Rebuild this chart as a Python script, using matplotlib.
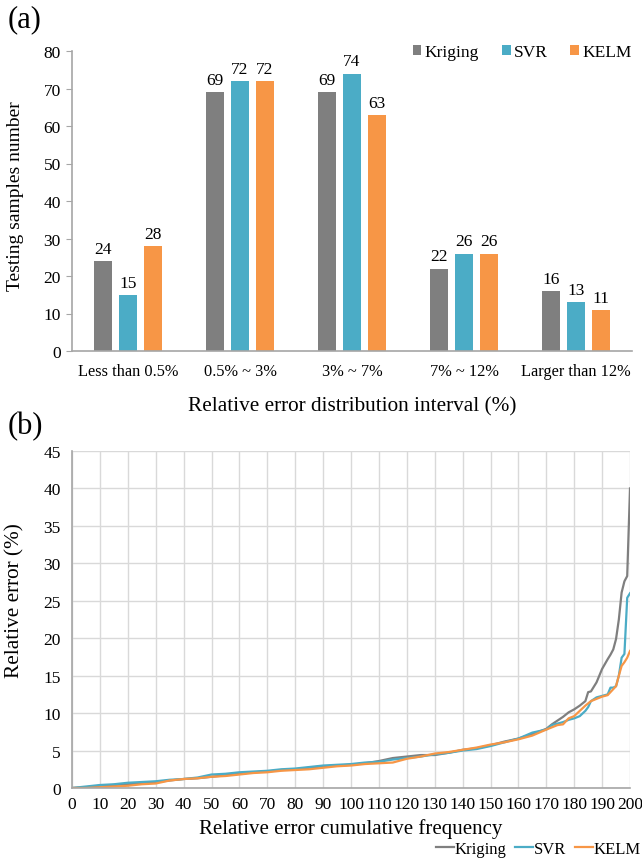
import matplotlib
matplotlib.use("Agg")
import matplotlib.pyplot as plt
import numpy as np

plt.rcParams['font.family'] = ['Liberation Serif', 'DejaVu Serif']

# (a) bar chart data
categories = ["Less than 0.5%", "0.5% ~ 3%", "3% ~ 7%", "7% ~ 12%", "Larger than 12%"]
kriging_counts = [24, 69, 69, 22, 16]
svr_counts = [15, 72, 74, 26, 13]
kelm_counts = [28, 72, 63, 26, 11]

# (b) relative error sorted
freq = [0, 5, 10, 15, 20, 25, 30, 35, 40, 45, 50, 55, 60, 65, 70, 75, 80, 85, 90, 95,
        100, 105, 110, 115, 120, 125, 130, 135, 140, 145, 150, 155, 160, 165, 170,
        172, 174, 176, 178, 180, 182, 184, 185, 186, 188, 190, 192, 193, 194, 195,
        196, 197, 198, 199, 200]
err_kriging = [0, 0.1, 0.3, 0.4, 0.5, 0.6, 0.8, 1.0, 1.2, 1.3, 1.5, 1.7, 1.9, 2.1, 2.2, 2.4,
               2.5, 2.7, 2.9, 3.0, 3.1, 3.3, 3.6, 4.0, 4.2, 4.4, 4.4, 4.7, 5.1, 5.3, 5.7,
               6.2, 6.6, 7.2, 7.9, 8.5, 9.0, 9.5, 10.1, 10.5, 11.0, 11.6, 12.8, 12.9, 14.1,
               15.9, 17.2, 17.8, 18.5, 19.9, 22.5, 26.1, 27.6, 28.3, 40.0]
err_svr = [0, 0.2, 0.4, 0.5, 0.7, 0.8, 0.9, 1.1, 1.2, 1.4, 1.8, 1.9, 2.1, 2.2, 2.3, 2.5,
           2.6, 2.8, 3.0, 3.1, 3.2, 3.4, 3.5, 3.8, 4.0, 4.2, 4.5, 4.7, 5.0, 5.2, 5.6,
           6.1, 6.6, 7.4, 7.8, 8.4, 8.6, 8.8, 9.1, 9.3, 9.6, 10.3, 10.8, 11.6, 12.1,
           12.3, 12.5, 13.4, 13.4, 13.6, 15.0, 17.4, 17.9, 25.4, 26.0]
err_kelm = [0, 0.0, 0.1, 0.2, 0.3, 0.5, 0.6, 1.0, 1.2, 1.3, 1.5, 1.6, 1.8, 2.0, 2.1, 2.3,
            2.4, 2.5, 2.7, 2.9, 3.0, 3.2, 3.3, 3.4, 3.9, 4.2, 4.6, 4.8, 5.1, 5.4, 5.8,
            6.1, 6.5, 7.0, 7.8, 8.1, 8.4, 8.5, 9.3, 9.6, 10.3, 11.0, 11.3, 11.6, 11.9,
            12.2, 12.4, 12.8, 13.2, 13.6, 15.0, 16.3, 16.8, 17.4, 18.3]

grey = "#7F7F7F"
blue = "#4BACC6"
orange = "#F79646"
axis_col = "#A6A6A6"

W, H = 642, 862
fig = plt.figure(figsize=(W / 100, H / 100), dpi=100)

# ---- (a)
ax1 = fig.add_axes([72 / W, 1 - 352 / H, 560 / W, 300 / H])
x = np.arange(len(categories))
w = 0.16
step = 0.22
b1 = ax1.bar(x - step, kriging_counts, w, color=grey, label="Kriging")
b2 = ax1.bar(x, svr_counts, w, color=blue, label="SVR")
b3 = ax1.bar(x + step, kelm_counts, w, color=orange, label="KELM")
for bars in (b1, b2, b3):
    ax1.bar_label(bars, padding=3, fontsize=12.5)
ax1.set_xlim(-0.5, len(categories) - 0.5)
ax1.set_ylim(0, 80)
ax1.set_yticks(range(0, 81, 10))
ax1.set_xticks(x)
ax1.set_xticklabels(categories, fontsize=11.8)
ax1.tick_params(axis='y', labelsize=12.5, length=4, color=axis_col, pad=4)
ax1.tick_params(axis='x', length=0, pad=9)
for s in ("top", "right"):
    ax1.spines[s].set_visible(False)
for s in ("left", "bottom"):
    ax1.spines[s].set_color(axis_col)
    ax1.spines[s].set_linewidth(1.2)
ax1.set_ylabel("Testing samples number", fontsize=14)
ax1.yaxis.set_label_coords(-0.085, 0.52)
ax1.set_xlabel("Relative error distribution interval (%)", fontsize=15.3, labelpad=12)
ax1.legend(loc="center right", bbox_to_anchor=(632 / W, 1 - 53 / H),
           bbox_transform=fig.transFigure, borderaxespad=0, borderpad=0,
           ncol=3, frameon=False, fontsize=12.5, handlelength=0.5, handleheight=0.5,
           handletextpad=0.2, columnspacing=1.3)
fig.text(8 / W, 1 - 20 / H, "(a)", fontsize=22, va="center", ha="left")

# ---- (b)
ax2 = fig.add_axes([72 / W, 1 - 789 / H, 558 / W, 337 / H])
ax2.plot(freq, err_kriging, color=grey, lw=1.6, label="Kriging")
ax2.plot(freq, err_svr, color=blue, lw=1.6, label="SVR")
ax2.plot(freq, err_kelm, color=orange, lw=1.6, label="KELM")
ax2.set_xlim(0, 200)
ax2.set_ylim(0, 45)
ax2.set_xticks(range(0, 201, 10))
ax2.set_yticks(range(0, 46, 5))
ax2.grid(True, color="#D9D9D9", lw=1.0)
ax2.set_axisbelow(True)
ax2.tick_params(length=0, labelsize=12.5)
ax2.tick_params(axis='x', pad=6)
ax2.tick_params(axis='y', pad=8)
for s in ("top", "right"):
    ax2.spines[s].set_visible(False)
for s in ("left", "bottom"):
    ax2.spines[s].set_color(axis_col)
    ax2.spines[s].set_linewidth(1.2)
ax2.set_ylabel("Relative error (%)", fontsize=15.3)
ax2.yaxis.set_label_coords(-0.085, 0.56)
ax2.set_xlabel("Relative error cumulative frequency", fontsize=15, labelpad=4)
ax2.legend(loc="center right", bbox_to_anchor=(641 / W, 1 - 850 / H),
           bbox_transform=fig.transFigure, borderaxespad=0, borderpad=0,
           ncol=3, frameon=False, fontsize=12, handlelength=1.1,
           handletextpad=0.05, columnspacing=0.5)
fig.text(8 / W, 1 - 427 / H, "(b)", fontsize=22, va="center", ha="left")

fig.savefig("out.png", dpi=100)
